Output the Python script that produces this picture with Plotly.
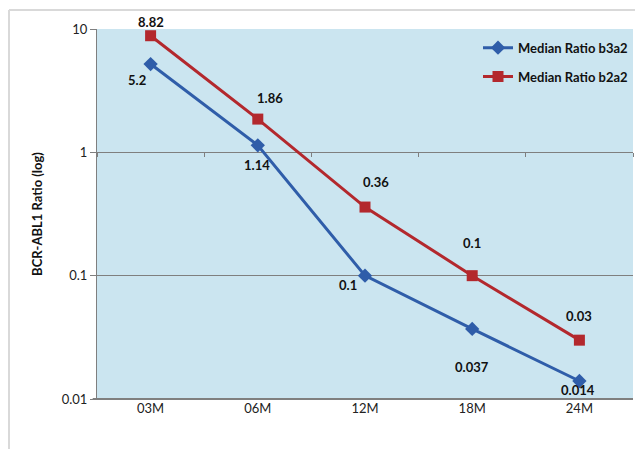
import math
import plotly.graph_objects as go

categories = ["03M", "06M", "12M", "18M", "24M"]
b3a2 = [5.2, 1.14, 0.1, 0.037, 0.014]
b2a2 = [8.82, 1.86, 0.36, 0.1, 0.03]
b3a2_labels = ["5.2", "1.14", "0.1", "0.037", "0.014"]
b2a2_labels = ["8.82", "1.86", "0.36", "0.1", "0.03"]
y_ticks = [0.01, 0.1, 1, 10]
y_tick_text = ["0.01", "0.1", "1", "10"]

# label pixel offsets (style)
b3a2_off = [(-14, -16), (-1, -20), (-17, -9), (0, -38), (-1, -9)]
b2a2_off = [(0, 14), (12, 21), (11, 25), (0, 33), (0, 24)]

BLUE = "#2F5DA9"
RED = "#B3282D"
FONT = "Lato"

fig = go.Figure()
fig.add_trace(go.Scatter(
    x=categories, y=b3a2, name="<b>Median Ratio b3a2</b>", mode="lines+markers",
    line=dict(color=BLUE, width=3), legendgroup="a",
    marker=dict(symbol="diamond", size=11, color=BLUE)))
fig.add_trace(go.Scatter(
    x=categories, y=b2a2, name="<b>Median Ratio b2a2</b>", mode="lines+markers",
    line=dict(color=RED, width=3), legendgroup="b",
    marker=dict(symbol="square", size=11, color=RED)))

anns = []
for vals, labels, offs in ((b3a2, b3a2_labels, b3a2_off), (b2a2, b2a2_labels, b2a2_off)):
    for c, v, t, (dx, dy) in zip(categories, vals, labels, offs):
        anns.append(dict(x=c, y=math.log10(v), yref="y", xref="x",
                         text="<b>" + t + "</b>", showarrow=False,
                         xshift=dx, yshift=dy,
                         font=dict(family=FONT, size=13, color="#111")))

# page body has an 8px margin, so the figure is offset by (8, 8)
W, H = 627, 441
L, R, T, B = 89, 2, 21, 50
pw, ph = W - L - R, H - T - B

fig.update_layout(
    width=W, height=H,
    margin=dict(l=L, r=R, t=T, b=B),
    paper_bgcolor="white",
    plot_bgcolor="#CBE5F0",
    font=dict(family=FONT, size=13, color="#222"),
    annotations=anns,
    showlegend=True,
    legend=dict(x=1.0, xanchor="right", y=0.99, yanchor="top",
                bgcolor="rgba(0,0,0,0)", tracegroupgap=9, traceorder="grouped",
                font=dict(family=FONT, size=13, color="#111"),
                itemwidth=30),
    xaxis=dict(type="category", categoryorder="array", categoryarray=categories,
               range=[-0.5, 4.5], showgrid=False, showline=False, ticks="",
               tickfont=dict(family=FONT, size=13, color="#222"), zeroline=False),
    xaxis2=dict(overlaying="x", matches="x", anchor="free",
                position=2 / 3, showticklabels=False, ticks="outside", ticklen=4,
                tickcolor="#7F7F7F", tickson="boundaries", showgrid=False,
                showline=False, type="category", categoryorder="array",
                categoryarray=categories),
    yaxis=dict(type="log", range=[-2, 1], tickvals=y_ticks, ticktext=y_tick_text,
               showgrid=True, gridcolor="#7F7F7F", gridwidth=1,
               showline=True, linecolor="#7F7F7F", linewidth=1,
               ticks="outside", ticklen=6, tickcolor="#7F7F7F",
               tickfont=dict(family=FONT, size=13, color="#222"),
               title=dict(text="<b>BCR-ABL1 Ratio (log)</b>", standoff=16,
                          font=dict(family=FONT, size=13, color="#111")),
               zeroline=False),
)

# axis line at bottom (0.01)
fig.add_shape(type="line", xref="paper", yref="paper", x0=-0.008, x1=1, y0=0, y1=0,
              line=dict(color="#7F7F7F", width=2))
# outer chart border (top and left)
bx = (1 - L) / pw
by = (ph + T - 2) / ph
fig.add_shape(type="line", xref="paper", yref="paper",
              x0=bx, x1=1.05, y0=by, y1=by,
              line=dict(color="#D9D9D9", width=2))
fig.add_shape(type="line", xref="paper", yref="paper",
              x0=bx, x1=bx, y0=by, y1=-0.3,
              line=dict(color="#D9D9D9", width=2))

# invisible trace so the tick-only axis at y=1 is drawn
fig.add_trace(go.Scatter(x=categories, y=b3a2, xaxis="x2", mode="none",
                         showlegend=False, hoverinfo="skip"))

fig.write_html("out.html")
